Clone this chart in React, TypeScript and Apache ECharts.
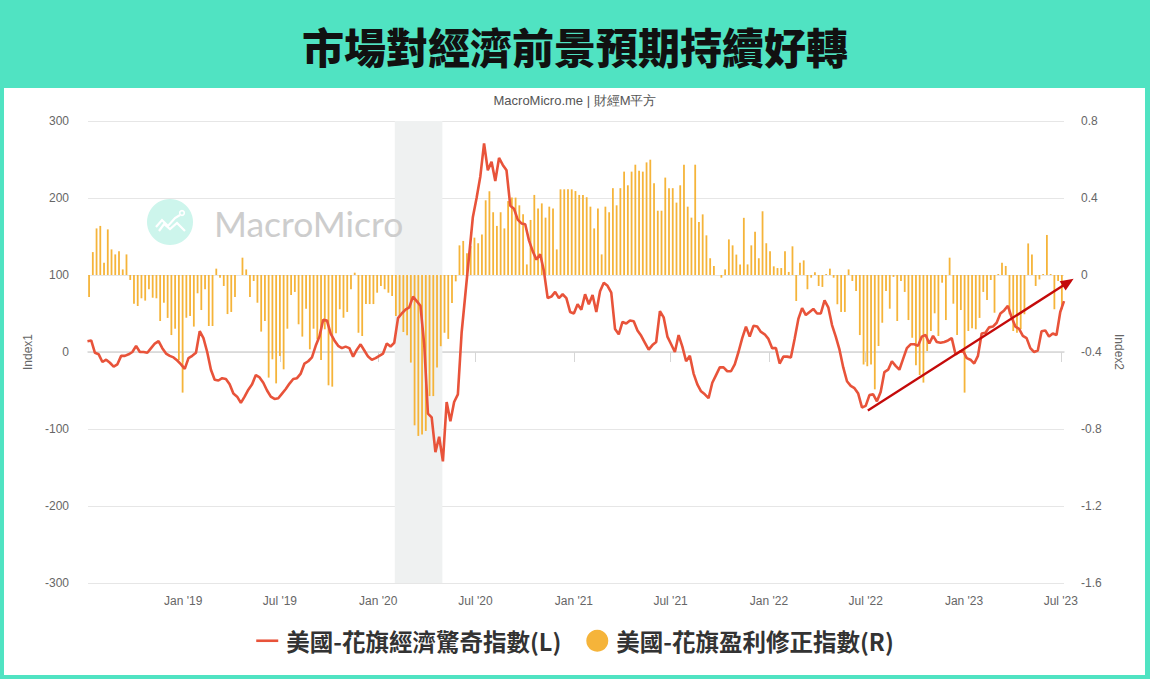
import React, { useEffect, useRef } from 'react';
import * as echarts from 'echarts';

const TITLE = '市場對經濟前景預期持續好轉';
const SUBTITLE = 'MacroMicro.me | 財經M平方';
const WATERMARK = 'MacroMicro';
const LINE_NAME = '美國-花旗經濟驚奇指數(L)';
const BAR_NAME = '美國-花旗盈利修正指數(R)';
const LEFT_AXIS_NAME = 'Index1';
const RIGHT_AXIS_NAME = 'Index2';

const X_MIN = '2018-07-07';
const X_MAX = '2023-07-07';
const X_TICKS = [
  '2019-01-01', '2019-07-01', '2020-01-01', '2020-07-01', '2021-01-01',
  '2021-07-01', '2022-01-01', '2022-07-01', '2023-01-01', '2023-07-01',
];

const LEFT_MIN = -300;
const LEFT_MAX = 300;
const LEFT_STEP = 100;
const RIGHT_MIN = -1.6;
const RIGHT_MAX = 0.8;
const RIGHT_STEP = 0.4;

const RECESSION = ['2020-02-01', '2020-04-30'];
const TREND_FROM = { date: '2022-07-05', value: -76 };
const TREND_TO = { date: '2023-07-25', value: 95 };

// weekly readings of the Citi economic surprise index (left axis)
const LINE_FIRST_WEEK = '2018-07-06';
const LINE_VALUES = [
  14, 15, -1, -3, -13, -10, -14, -19, -16, -5,
  -5, -3, 0, 8, 0, 0, -1, 5, 11, 14,
  5, -2, -5, -7, -11, -16, -22, -8, -5, -1,
  27, 18, 0, -23, -36, -37, -34, -35, -42, -54,
  -58, -66, -58, -49, -42, -30, -33, -40, -50, -58,
  -61, -60, -54, -48, -41, -35, -34, -28, -15, -12,
  -7, 8, 20, 42, 41, 24, 15, 8, 5, 7,
  5, -6, 3, 10, 2, -6, -10, -8, -5, -2,
  11, 7, 12, 44, 50, 55, 58, 72, 66, 60,
  10, -80, -85, -130, -110, -142, -65, -90, -65, -55,
  25, 75, 125, 175, 200, 228, 271, 236, 247, 222,
  252, 243, 236, 190, 186, 172, 167, 166, 145, 131,
  120, 127, 105, 70, 72, 78, 70, 75, 70, 52,
  50, 62, 55, 75, 62, 74, 52, 79, 90, 86,
  77, 30, 23, 39, 37, 41, 40, 28, 21, 12,
  3, 9, 13, 53, 45, 20, 10, 0, 22, 7,
  -12, -5, -28, -42, -51, -55, -60, -40, -30, -20,
  -20, -25, -25, -16, 0, 18, 33, 20, 34, 33,
  26, 23, 17, 5, 5, -15, -6, -6, -7, 17,
  43, 57, 48, 52, 56, 50, 50, 67, 58, 35,
  20, 3, -20, -38, -44, -47, -54, -72, -70, -56,
  -55, -64, -52, -26, -23, -12, -18, -23, -9, 5,
  10, 10, 8, 20, 22, 11, 21, 13, 12, 13,
  15, 18, -3, 0, 2, -8, -10, -15, -5, 24,
  25, 32, 33, 38, 50, 54, 60, 45, 33, 30,
  21, 18, 5, 0, 2, 27, 28, 20, 24, 22,
  52, 66,
];

// weekly readings of the Citi earnings revision index (right axis)
const BAR_FIRST_WEEK = '2018-07-09';
const BAR_VALUES: (number | null)[] = [
  -0.114, 0.119, 0.242, 0.255, 0.064, 0.237, 0.133, 0.107, 0.123, 0.029,
  0.107, -0.026, -0.149, -0.161, -0.121, -0.133, -0.074, -0.118, -0.121, -0.239,
  -0.144, -0.223, -0.312, -0.279, -0.442, -0.611, -0.222, -0.213, -0.268, -0.095,
  -0.182, -0.074, -0.265, -0.265, 0.033, -0.014, -0.057, -0.203, -0.192, -0.114,
  null, 0.09, 0.029, -0.114, -0.031, -0.144, -0.294, -0.239, -0.533, -0.438,
  -0.563, -0.421, -0.49, -0.279, -0.104, -0.088, -0.256, -0.32, -0.175, -0.386,
  -0.279, -0.334, -0.442, -0.282, -0.573, -0.58, -0.303, -0.178, -0.222, -0.192,
  -0.074, 0.012, -0.3, -0.317, -0.151, -0.151, -0.151, -0.092, -0.057, -0.074,
  -0.092, -0.109, -0.213, -0.213, -0.296, -0.313, -0.455, -0.781, -0.836, -0.828,
  -0.81, -0.629, -0.629, -0.481, -0.37, -0.3, -0.332, -0.146, -0.033, 0.154,
  0.177, 0.113, 0.15, 0.194, 0.165, 0.211, 0.388, 0.435, 0.326, 0.255,
  0.326, 0.242, 0.384, 0.402, 0.402, 0.362, 0.315, 0.055, 0.286, 0.416,
  0.345, 0.372, 0.298, 0.355, 0.345, 0.133, 0.445, 0.445, 0.445, 0.445,
  0.436, 0.416, 0.416, 0.404, 0.355, 0.242, 0.345, 0.107, 0.355, 0.326,
  0.451, 0.362, 0.451, 0.537, 0.466, 0.537, 0.573, 0.542, 0.537, 0.585,
  0.599, 0.476, 0.334, 0.334, 0.506, 0.451, 0.451, 0.376, 0.466, 0.573,
  0.355, 0.298, 0.573, 0.275, 0.315, 0.206, 0.087, 0.047, null, -0.014,
  0.029, 0.185, 0.154, 0.106, 0.055, 0.297, 0.055, 0.154, 0.225, 0.087,
  0.331, 0.165, 0.123, 0.045, 0.036, 0.036, 0.123, 0.016, 0.149, -0.135,
  0.064, 0.076, -0.074, -0.014, 0.014, -0.057, -0.062, 0.005, 0.033, -0.014,
  -0.152, -0.192, -0.192, 0.029, -0.031, -0.083, -0.312, -0.465, -0.474, -0.465,
  -0.594, -0.369, -0.248, -0.083, -0.175, -0.01, -0.239, -0.031, -0.088, -0.234,
  -0.326, -0.469, -0.52, -0.559, -0.395, -0.291, -0.199, -0.317, -0.04, -0.234,
  0.09, -0.149, -0.312, -0.182, -0.611, -0.291, -0.277, -0.282, -0.223, -0.088,
  -0.13, -0.026, -0.196, 0.005, 0.064, 0.047, -0.204, -0.291, -0.3, -0.282,
  -0.204, 0.164, 0.107, -0.057, -0.023, 0.005, 0.208, 0.005, -0.178, -0.031,
  -0.178,
];

const LINE_COLOR = '#E8533A';
const BAR_COLOR = '#F5B43A';
const ARROW_COLOR = '#C40A0A';
const AXIS_FONT = "'Liberation Sans', Helvetica, Arial, sans-serif";
const CJK_FONT = "'Noto Sans CJK TC', 'Noto Sans CJK SC', sans-serif";

function dayTs(s: string, addDays = 0) {
  const [y, m, d] = s.split('-').map(Number);
  return new Date(y, m - 1, d + addDays).getTime();
}

export default function App() {
  const ref = useRef<HTMLDivElement>(null);

  useEffect(() => {
    document.body.style.margin = '0';
    const chart = echarts.init(ref.current!, undefined, { renderer: 'svg' });

    const lineData = LINE_VALUES.map((v, i) => [dayTs(LINE_FIRST_WEEK, 7 * i), v]);
    const barData = BAR_VALUES.map((v, i) => [dayTs(BAR_FIRST_WEEK, 7 * i), v]).filter(
      (d) => d[1] !== null
    );
    const tickValues = X_TICKS.map((d) => dayTs(d));

    const WM_Z = 1.5;
    const baseGraphics: any[] = [
      {
        id: 'title',
        type: 'text',
        z: 10,
        style: {
          text: TITLE,
          x: 575,
          y: 45,
          align: 'center',
          verticalAlign: 'middle',
          fontSize: 42,
          fontWeight: 900,
          fontFamily: CJK_FONT,
          fill: '#111',
        },
      },
      {
        id: 'subtitle',
        type: 'text',
        z: 10,
        style: {
          text: SUBTITLE,
          x: 575,
          y: 100,
          align: 'center',
          verticalAlign: 'middle',
          fontSize: 13,
          fontFamily: AXIS_FONT,
          fill: '#555',
        },
      },
      {
        id: 'wm-circle',
        type: 'circle',
        z: WM_Z,
        shape: { cx: 170, cy: 222, r: 23 },
        style: { fill: '#CDF5EC' },
      },
      {
        id: 'wm-l1',
        type: 'polyline',
        z: WM_Z,
        shape: { points: [[156, 227], [162, 220], [168, 226], [175, 218], [180, 215]] },
        style: { stroke: '#fff', lineWidth: 2.2, fill: null },
      },
      {
        id: 'wm-l2',
        type: 'polyline',
        z: WM_Z,
        shape: { points: [[159, 231], [164, 224], [170, 229], [177, 223], [185, 231]] },
        style: { stroke: '#fff', lineWidth: 2.2, fill: null },
      },
      {
        id: 'wm-dot',
        type: 'circle',
        z: WM_Z,
        shape: { cx: 182, cy: 213, r: 2.3 },
        style: { fill: null, stroke: '#fff', lineWidth: 1.6 },
      },
      {
        id: 'wm-text',
        type: 'text',
        z: WM_Z,
        style: {
          text: WATERMARK,
          x: 214,
          y: 223,
          align: 'left',
          verticalAlign: 'middle',
          fontSize: 35.5,
          fontFamily: "Lato, 'Open Sans', sans-serif",
          fill: '#CDCDCD',
        },
      },
    ];

    const option: any = {
      animation: false,
      grid: { left: 88, right: 86, top: 121, bottom: 96, containLabel: false },
      legend: {
        top: 624,
        left: 'center',
        itemWidth: 22,
        itemHeight: 22,
        itemGap: 25,
        selectedMode: false,
        textStyle: {
          fontSize: 23.5,
          fontWeight: 'bold',
          color: '#333',
          fontFamily: CJK_FONT,
          padding: [0, 0, 0, 3],
        },
        data: [
          { name: LINE_NAME, icon: 'path://M0,0 L22,0 L22,2.6 L0,2.6 Z' },
          { name: BAR_NAME, icon: 'circle' },
        ],
      },
      xAxis: {
        type: 'value',
        min: dayTs(X_MIN),
        max: dayTs(X_MAX),
        scale: true,
        axisLine: { show: true, lineStyle: { color: '#D6D6D6', width: 1.5 } },
        axisTick: {
          show: true,
          length: 10,
          lineStyle: { color: '#D6D6D6' },
          customValues: tickValues,
        },
        splitLine: { show: false },
        axisLabel: {
          margin: 12,
          color: '#666',
          fontSize: 12,
          fontFamily: AXIS_FONT,
          showMinLabel: true,
          showMaxLabel: true,
          customValues: tickValues,
          formatter: (v: number) => {
            const dt = new Date(v);
            const mon = dt.getMonth() === 0 ? 'Jan' : 'Jul';
            return mon + " '" + String(dt.getFullYear()).slice(2);
          },
        },
      },
      yAxis: [
        {
          type: 'value',
          position: 'left',
          min: LEFT_MIN,
          max: LEFT_MAX,
          interval: LEFT_STEP,
          axisLine: { show: false },
          axisTick: { show: false },
          splitLine: { lineStyle: { color: '#E6E6E6', width: 1 } },
          axisLabel: { color: '#666', fontSize: 12, margin: 19, fontFamily: AXIS_FONT },
          name: LEFT_AXIS_NAME,
          nameLocation: 'middle',
          nameRotate: 90,
          nameGap: 54,
          nameTextStyle: { color: '#666', fontSize: 12, fontFamily: AXIS_FONT },
        },
        {
          type: 'value',
          position: 'right',
          min: RIGHT_MIN,
          max: RIGHT_MAX,
          interval: RIGHT_STEP,
          axisLine: { show: false },
          axisTick: { show: false },
          splitLine: { show: false },
          axisLabel: {
            color: '#666',
            fontSize: 12,
            margin: 17,
            fontFamily: AXIS_FONT,
            formatter: (v: number) => String(parseFloat(v.toFixed(1))),
          },
          name: RIGHT_AXIS_NAME,
          nameLocation: 'middle',
          nameRotate: -90,
          nameGap: 49,
          nameTextStyle: { color: '#666', fontSize: 12, fontFamily: AXIS_FONT },
        },
      ],
      series: [
        {
          name: BAR_NAME,
          type: 'bar',
          yAxisIndex: 1,
          xAxisIndex: 0,
          barWidth: 1.8,
          z: 2,
          itemStyle: { color: BAR_COLOR },
          data: barData,
          markArea: {
            silent: true,
            z: 1,
            itemStyle: { color: '#EFF1F1' },
            data: [[{ xAxis: dayTs(RECESSION[0]) }, { xAxis: dayTs(RECESSION[1]) }]],
          },
        },
        {
          name: LINE_NAME,
          type: 'line',
          yAxisIndex: 0,
          xAxisIndex: 0,
          z: 3,
          showSymbol: false,
          symbol: 'none',
          lineStyle: { color: LINE_COLOR, width: 2.6 },
          itemStyle: { color: LINE_COLOR },
          data: lineData,
        },
      ],
      graphic: baseGraphics,
    };

    chart.setOption(option);

    const p0 = chart.convertToPixel({ xAxisIndex: 0, yAxisIndex: 0 }, [
      dayTs(TREND_FROM.date),
      TREND_FROM.value,
    ]) as number[];
    const p1 = chart.convertToPixel({ xAxisIndex: 0, yAxisIndex: 0 }, [
      dayTs(TREND_TO.date),
      TREND_TO.value,
    ]) as number[];
    if (p0 && p1) {
      const dx = p1[0] - p0[0];
      const dy = p1[1] - p0[1];
      const len = Math.sqrt(dx * dx + dy * dy);
      const ux = dx / len;
      const uy = dy / len;
      const nx = -uy;
      const ny = ux;
      const headL = 13;
      const headW = 5.5;
      const bx = p1[0] - ux * headL;
      const by = p1[1] - uy * headL;
      chart.setOption({
        graphic: [
          ...baseGraphics,
          {
            id: 'arrow-line',
            type: 'line',
            z: 100,
            shape: { x1: p0[0], y1: p0[1], x2: bx + ux * 2, y2: by + uy * 2 },
            style: { stroke: ARROW_COLOR, lineWidth: 2.4 },
          },
          {
            id: 'arrow-head',
            type: 'polygon',
            z: 100,
            shape: {
              points: [
                [p1[0], p1[1]],
                [bx + nx * headW, by + ny * headW],
                [bx - nx * headW, by - ny * headW],
              ],
            },
            style: { fill: ARROW_COLOR },
          },
        ],
      });
    }

    return () => chart.dispose();
  }, []);

  return (
    <div
      style={{
        position: 'relative',
        width: 1150,
        height: 679,
        background: '#50E3C2',
        overflow: 'hidden',
      }}
    >
      <div
        style={{
          position: 'absolute',
          left: 4,
          top: 88,
          width: 1141,
          height: 587,
          background: '#ffffff',
        }}
      />
      <div ref={ref} style={{ position: 'absolute', left: 0, top: 0, width: 1150, height: 679 }} />
    </div>
  );
}
